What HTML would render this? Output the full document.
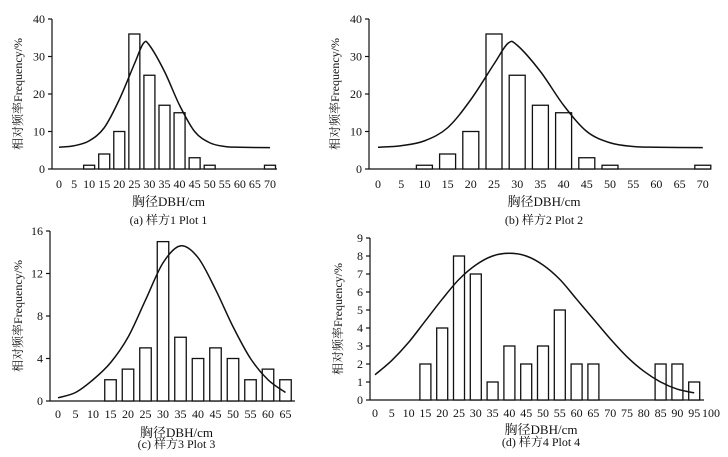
<!DOCTYPE html>
<html><head><meta charset="utf-8"><style>
body{margin:0;background:#fff}
svg{display:block;font-family:"Liberation Serif","Noto Serif CJK SC","Noto Sans CJK SC",serif}
</style></head><body>
<svg id="c" width="728" height="457" viewBox="0 0 728 457"></svg>
<script>
const catsA=[0,5,10,15,20,25,30,35,40,45,50,55,60,65,70];
const valsA=[0,0,1,4,10,36,25,17,15,3,1,0,0,0,1];
const curveXA=[0,5,10,15,20,25,28,30,35,40,45,50,55,60,70];
const curveYA=[5.8,6.2,7.5,11,18.5,28,33.5,33,26,17,10,7,6,5.8,5.7];
const yTicksA=[0,10,20,30,40];
const catsC=[0,5,10,15,20,25,30,35,40,45,50,55,60,65];
const valsC=[0,0,0,2,3,5,15,6,4,5,4,2,3,2];
const curveXC=[0,5,10,15,20,25,30,35,40,45,50,55,60,65];
const curveYC=[0.3,0.8,2,3.6,6,9.5,13,14.6,13.5,10.5,7,4,2,0.8];
const yTicksC=[0,4,8,12,16];
const catsD=[0,5,10,15,20,25,30,35,40,45,50,55,60,65,70,75,80,85,90,95,100];
const valsD=[0,0,0,2,4,8,7,1,3,2,3,5,2,2,0,0,0,2,2,1,0];
const curveXD=[0,5,10,15,20,25,30,35,40,45,50,55,60,65,70,75,80,85,90,95];
const curveYD=[1.4,2.2,3.2,4.4,5.6,6.7,7.5,8,8.15,8,7.5,6.7,5.6,4.5,3.4,2.4,1.6,1.0,0.6,0.4];
const yTicksD=[0,1,2,3,4,5,6,7,8,9];

const NS="http://www.w3.org/2000/svg";
const svg=document.getElementById('c');
function mk(t,a,p){const e=document.createElementNS(NS,t);for(const k in a)e.setAttribute(k,a[k]);(p||svg).appendChild(e);return e;}
function txt(s,x,y,a,p){const e=mk('text',Object.assign({x:x,y:y,'font-size':12,fill:'#111'},a||{}),p);e.textContent=s;return e;}

function panel(id,cfg,cats,vals,cx,cy,yt,caption){
  const g=mk('g',{});
  
  
  const xs=v=>cfg.x0+(v/5)*cfg.step;
  const ys=v=>cfg.yb-(v/cfg.yMax)*(cfg.yb-cfg.yt);
  const st={stroke:'#111','stroke-width':1.2,fill:'none'};
  const ya=mk('line',Object.assign({x1:cfg.ax,y1:cfg.yt,x2:cfg.ax,y2:cfg.yb},st),g);
  
  
  const xa=mk('line',Object.assign({x1:cfg.ax,y1:cfg.yb,x2:cfg.xe,y2:cfg.yb},st),g);
  
  
  yt.forEach(v=>{
    mk('line',Object.assign({x1:cfg.ax-4,y1:ys(v),x2:cfg.ax,y2:ys(v)},st),g);
    const t=txt(String(v),cfg.ax-7,ys(v)+4,{'text-anchor':'end'},g);
    
    
  });
  cats.forEach((c,i)=>{
    const t=txt(String(c),xs(c),cfg.yb+cfg.lab,{'text-anchor':'middle'},g);
    
    
    if(vals[i]>0){
      const r=mk('rect',{x:xs(c)-cfg.bw/2,y:ys(vals[i]),width:cfg.bw,height:cfg.yb-ys(vals[i]),fill:'#fff',stroke:'#111','stroke-width':1.3},g);
      
      
    }
  });
  const P=cx.map((x,i)=>[xs(x),ys(cy[i])]);
  let d='M'+P[0][0]+','+P[0][1];
  for(let i=0;i<P.length-1;i++){
    const p0=P[i-1]||P[i],p1=P[i],p2=P[i+1],p3=P[i+2]||P[i+1];
    d+=' C'+(p1[0]+(p2[0]-p0[0])/6)+','+(p1[1]+(p2[1]-p0[1])/6)+' '+(p2[0]-(p3[0]-p1[0])/6)+','+(p2[1]-(p3[1]-p1[1])/6)+' '+p2[0]+','+p2[1];
  }
  const cu=mk('path',{d:d,fill:'none',stroke:'#111','stroke-width':1.5},g);
  
  
  const my=(cfg.yt+cfg.yb)/2;
  const yl=txt('相对频率Frequency/%',cfg.ylx,my,{'text-anchor':'middle',transform:'rotate(-90 '+cfg.ylx+' '+my+')','font-size':12},g);
  
  
  const mx=(cfg.ax+cfg.xe)/2+4;
  const xl=txt('胸径DBH/cm',mx,cfg.yb+cfg.tit,{'text-anchor':'middle','font-size':13},g);
  
  
  const cp=txt(caption,mx,cfg.yb+cfg.capOff,{'text-anchor':'middle','font-size':12},g);
  
  
}
panel('a',{ax:52,x0:59,step:15.07,yb:169,yt:19,yMax:40,bw:11,xe:277,ylx:22,lab:19,tit:37,capOff:55},catsA,valsA,curveXA,curveYA,yTicksA,'(a) 样方1 Plot 1');
panel('b',{ax:369,x0:378,step:23.2,yb:169,yt:19,yMax:40,bw:16,xe:711,ylx:339,lab:19,tit:37,capOff:55},catsA,valsA,curveXA,curveYA,yTicksA,'(b) 样方2 Plot 2');
panel('c',{ax:50,x0:58,step:17.5,yb:401,yt:231,yMax:16,bw:11.5,xe:295,ylx:22,lab:17,tit:36,capOff:47},catsC,valsC,curveXC,curveYC,yTicksC,'(c) 样方3 Plot 3');
panel('d',{ax:370,x0:375,step:16.8,yb:400,yt:238,yMax:9,bw:11,xe:704,ylx:342,lab:17,tit:34,capOff:46},catsD,valsD,curveXD,curveYD,yTicksD,'(d) 样方4 Plot 4');
</script>
</body></html>
